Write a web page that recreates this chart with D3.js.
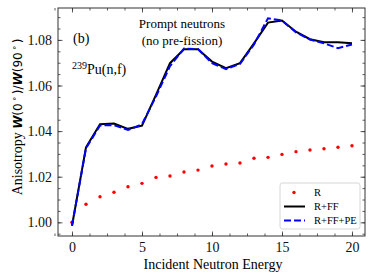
<!DOCTYPE html>
<html>
<head>
<meta charset="utf-8">
<script src="https://cdn.jsdelivr.net/npm/d3@7"></script>
<style>
  body { margin: 0; background: #fff; }
  text { font-family: "Liberation Serif", "Times New Roman", serif; }
</style>
</head>
<body>
<svg id="chart" width="374" height="280"></svg>
<script>
// incident neutron energies (MeV)
var energies = [0,1,2,3,4,5,6,7,8,9,10,11,12,13,14,15,16,17,18,19,20];

// R (red dots)
var rVals = [1.000,1.0079,1.0112,1.0132,1.0156,1.0171,1.0197,1.0203,1.0221,1.0229,1.0247,
             1.0256,1.0260,1.0281,1.0285,1.0298,1.0310,1.0317,1.0323,1.0329,1.0336];
// R+FF (black line)
var rffVals = [0.9985,1.0329,1.0430,1.0433,1.0410,1.0424,1.0559,1.0698,1.0759,1.0759,1.0705,
               1.0676,1.0698,1.0785,1.0876,1.0885,1.0836,1.0803,1.0790,1.0790,1.0785];
// R+FF+PE (blue dashed)
var rffpeVals = [0.9985,1.0325,1.0425,1.0426,1.0405,1.0430,1.0552,1.0685,1.0762,1.0760,1.0698,
                 1.0672,1.0695,1.0780,1.0895,1.0885,1.0833,1.0802,1.0785,1.0764,1.0780];

var xTicks = [0,5,10,15,20];
var yTicks = [1.00,1.02,1.04,1.06,1.08];

var svg = d3.select("#chart");
var m = {left:58, top:8, right:365, bottom:236};

var x = d3.scaleLinear().domain([-1, 20.93]).range([m.left, m.right]);
var y = d3.scaleLinear().domain([0.994, 1.094]).range([m.bottom, m.top]);

var axisColor = "#333";

// ticks on all four sides, pointing in
function tickAxis(axis, tr, vals, size, labels){
	var g = svg.append("g").attr("transform", tr)
		.call(axis.tickValues(vals).tickSize(size).tickFormat(labels ? labels : ""));
	g.select(".domain").remove();
	g.selectAll("line").attr("stroke", axisColor).attr("stroke-width", 0.8);
	return g;
}
var xMinor = d3.range(-1.25, 20.9, 1.25);
var yMinor = d3.range(0.995, 1.094, 0.005);

var bx = tickAxis(d3.axisBottom(x), "translate(0," + m.bottom + ")", xTicks, -4.5, d3.format("d"));
bx.selectAll("text").attr("y", 6.5).attr("font-size", 14).attr("fill", "#111")
	.style("font-family", "Liberation Serif");
tickAxis(d3.axisBottom(x), "translate(0," + m.bottom + ")", xMinor, -2.5);
tickAxis(d3.axisTop(x), "translate(0," + m.top + ")", xTicks, -4.5);
tickAxis(d3.axisTop(x), "translate(0," + m.top + ")", xMinor, -2.5);

var ly = tickAxis(d3.axisLeft(y), "translate(" + m.left + ",0)", yTicks, -4.5, d3.format(".2f"));
ly.selectAll("text").attr("x", -6).attr("font-size", 14).attr("fill", "#111")
	.style("font-family", "Liberation Serif");
tickAxis(d3.axisLeft(y), "translate(" + m.left + ",0)", yMinor, -2.5);
tickAxis(d3.axisRight(y), "translate(" + m.right + ",0)", yTicks, -4.5);
tickAxis(d3.axisRight(y), "translate(" + m.right + ",0)", yMinor, -2.5);

// frame
svg.append("rect")
	.attr("x", m.left).attr("y", m.top)
	.attr("width", m.right - m.left).attr("height", m.bottom - m.top)
	.attr("fill", "none").attr("stroke", axisColor).attr("stroke-width", 1);

// data
var line = d3.line().x(function(d){ return x(d[0]); }).y(function(d){ return y(d[1]); });

svg.append("g").selectAll("circle")
	.data(d3.zip(energies, rVals))
	.enter().append("circle")
	.attr("cx", function(d){ return x(d[0]); })
	.attr("cy", function(d){ return y(d[1]); })
	.attr("r", 1.7)
	.attr("fill", "#ff0000");

svg.append("path")
	.datum(d3.zip(energies, rffVals))
	.attr("d", line)
	.attr("fill", "none").attr("stroke", "#000").attr("stroke-width", 2);

svg.append("path")
	.datum(d3.zip(energies, rffpeVals))
	.attr("d", line)
	.attr("fill", "none").attr("stroke", "#0000ff").attr("stroke-width", 2)
	.attr("stroke-dasharray", "7,3");

// annotations
svg.append("text").attr("x", 73).attr("y", 43).attr("font-size", 14).text("(b)");
var pu = svg.append("text").attr("x", 72).attr("y", 74).attr("font-size", 14);
pu.append("tspan").attr("font-size", 10).attr("dy", -5).text("239");
pu.append("tspan").attr("dy", 5).text("Pu(n,f)");

svg.append("text").attr("x", 182).attr("y", 28).attr("font-size", 13)
	.attr("text-anchor", "middle").text("Prompt neutrons");
svg.append("text").attr("x", 182).attr("y", 45).attr("font-size", 13)
	.attr("text-anchor", "middle").text("(no pre-fission)");

// axis titles
svg.append("text").attr("x", 213).attr("y", 269).attr("font-size", 14)
	.attr("text-anchor", "middle").text("Incident Neutron Energy");

var yt = svg.append("text")
	.attr("transform", "translate(22,117) rotate(-90)")
	.attr("text-anchor", "middle").attr("font-size", 14);
yt.append("tspan").text("Anisotropy ");
var sans = "DejaVu Sans";
function mathPart(t, opts){
	var s = yt.append("tspan").style("font-family", sans).attr("font-size", 12).text(t);
	if (opts === "W") s.attr("font-weight", "bold").attr("font-style", "italic");
	if (opts === "deg") s.attr("font-size", 8).attr("dy", -5).attr("dx", 2);
	if (opts === "down") s.attr("dy", 5).attr("dx", 2);
	return s;
}
mathPart("W", "W"); mathPart("(0"); mathPart("\u2218", "deg"); mathPart(")/", "down");
mathPart("W", "W"); mathPart("(90"); mathPart("\u2218", "deg"); mathPart(")", "down");

// legend
var lg = svg.append("g").attr("transform", "translate(280,183)");
lg.append("rect").attr("width", 80).attr("height", 46).attr("rx", 2.5)
	.attr("fill", "#fff").attr("fill-opacity", 0.8).attr("stroke", "#ccc").attr("stroke-width", 0.8);
var legendItems = ["R", "R+FF", "R+FF+PE"];
legendItems.forEach(function(name, i){
	var cy = 9.5 + i * 14;
	if (i === 0) {
		lg.append("circle").attr("cx", 14).attr("cy", cy).attr("r", 1.7).attr("fill", "#ff0000");
	} else {
		lg.append("line").attr("x1", 4).attr("x2", 25).attr("y1", cy).attr("y2", cy)
			.attr("stroke", i === 1 ? "#000" : "#0000ff").attr("stroke-width", 2)
			.attr("stroke-dasharray", i === 2 ? "7,3" : null);
	}
	lg.append("text").attr("x", 34).attr("y", cy + 3.5).attr("font-size", 10.5).text(name);
});
</script>
</body>
</html>
